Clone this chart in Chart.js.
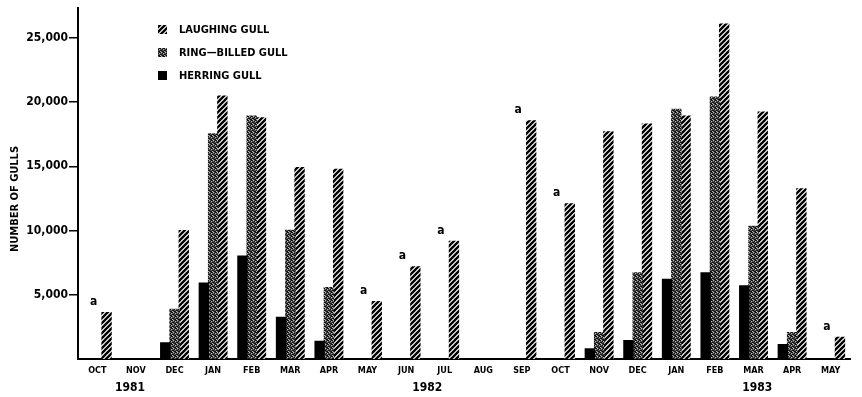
<!DOCTYPE html>
<html>
<head>
<meta charset="utf-8">
<script src="https://cdn.jsdelivr.net/npm/chart.js@4.4.0/dist/chart.umd.min.js"></script>
<style>
  html,body{margin:0;padding:0;background:#fff}
  #wrap{width:862px;height:397px;position:relative}
</style>
</head>
<body>
<div id="wrap"><canvas id="grafico"></canvas></div>
<script>
// ---------- Dados ----------
const months = ['OCT','NOV','DEC','JAN','FEB','MAR','APR','MAY','JUN','JUL','AUG','SEP',
                'OCT','NOV','DEC','JAN','FEB','MAR','APR','MAY'];
const years = ['1981', '1982', '1983'];
const yearCenter = [0.85, 8.55, 17.1]; // month index each year label sits under

const herring  = [null, null, 1300, 5950, 8050, 3280, 1420, null, null, null, null, null,
                  null, 830, 1470, 6250, 6760, 5730, 1160, null];
const ringBill = [null, null, 3920, 17570, 18940, 10060, 5600, null, null, null, null, null,
                  null, 2110, 6760, 19480, 20430, 10370, 2110, null];
const laughing = [3660, null, 10040, 20510, 18810, 14940, 14800, 4510, 7220, 9210, null, 18580,
                  12130, 17720, 18320, 18940, 26100, 19270, 13290, 1730];
// footnote "a" marks over the laughing gull bar
const noteA = [1,0,0,0,0,0,0,1,1,1,0,1,1,0,0,0,0,0,0,1];

const yTicks = [5000, 10000, 15000, 20000, 25000];

const FONT = "'DejaVu Sans Condensed', 'Liberation Sans', Arial, sans-serif";

// ---------- Padrões ----------
function hatchPattern(){
  const c = document.createElement('canvas');
  c.width = 5; c.height = 5;
  const g = c.getContext('2d');
  g.fillStyle = '#fff'; g.fillRect(0,0,5,5);
  g.strokeStyle = '#000'; g.lineWidth = 2.3;
  g.beginPath();
  g.moveTo(-1,6); g.lineTo(6,-1);
  g.moveTo(-1,1); g.lineTo(1,-1);
  g.moveTo(4,6); g.lineTo(6,4);
  g.stroke();
  return g.createPattern(c, 'repeat');
}
function stipplePattern(){
  const c = document.createElement('canvas');
  c.width = 4; c.height = 4;
  const g = c.getContext('2d');
  g.fillStyle = '#555'; g.fillRect(0,0,4,4);
  g.fillStyle = '#111';
  [[0,0],[2,1],[1,2],[3,3],[2,3],[0,2],[3,0]].forEach(([x,y])=>g.fillRect(x,y,1,1));
  g.fillStyle = '#b8b8b8';
  [[1,0],[3,1],[0,3]].forEach(([x,y])=>g.fillRect(x,y,1,1));
  return g.createPattern(c, 'repeat');
}
const HATCH = hatchPattern();
const STIPPLE = stipplePattern();

// ---------- Plugin: legenda, notas, anos, título ----------
const extras = {
  id: 'extras',
  afterDatasetsDraw(chart){
    const {ctx, scales:{x}} = chart;
    ctx.save();
    ctx.fillStyle = '#000';

    // notas "a"
    const meta = chart.getDatasetMeta(2);
    ctx.font = 'bold 12px ' + FONT;
    ctx.textAlign = 'center';
    ctx.textBaseline = 'middle';
    noteA.forEach((f,i)=>{
      if(!f) return;
      const el = meta.data[i];
      ctx.fillText('a', el.x - 13, el.y - 10);
    });

    // anos
    ctx.font = 'bold 12px ' + FONT;
    years.forEach((y,i)=>{
      ctx.fillText(y, x.getPixelForValue(yearCenter[i]), 388);
    });

    // legenda
    const items = [
      {label:'LAUGHING GULL', fill:HATCH},
      {label:'RING\u2014BILLED GULL', fill:STIPPLE},
      {label:'HERRING GULL', fill:'#000'},
    ];
    ctx.font = 'bold 11px ' + FONT;
    ctx.textAlign = 'left';
    items.forEach((it,i)=>{
      const cy = 30 + i*23;
      ctx.fillStyle = it.fill;
      ctx.fillRect(158, cy-5, 9, 9);
      ctx.fillStyle = '#000';
      ctx.fillText(it.label, 179, cy);
    });

    // título do eixo y
    ctx.translate(15, 199);
    ctx.rotate(-Math.PI/2);
    ctx.textAlign = 'center';
    ctx.font = 'bold 11px ' + FONT;
    ctx.fillText('NUMBER OF GULLS', 0, 0);
    ctx.restore();
  }
};

// ---------- Gráfico ----------
const common = { borderWidth: 0, categoryPercentage: 0.72, barPercentage: 1.12 };

new Chart(document.getElementById('grafico'), {
  type: 'bar',
  data: {
    labels: months,
    datasets: [
      { label: 'Herring Gull', data: herring, backgroundColor: '#000', ...common },
      { label: 'Ring-billed Gull', data: ringBill, backgroundColor: STIPPLE, ...common },
      { label: 'Laughing Gull', data: laughing, backgroundColor: HATCH, ...common },
    ]
  },
  options: {
    responsive: true,
    maintainAspectRatio: false,
    animation: false,
    layout: { padding: { top: 6, right: 12, left: 0, bottom: 0 } },
    scales: {
      x: {
        offset: true,
        grid: { display: false, drawTicks: false },
        border: { display: true, color: '#000', width: 2 },
        ticks: { color: '#000', font: { family: FONT, size: 9, weight: 'bold' }, padding: 6,
                 maxRotation: 0, autoSkip: false },
        afterFit: (s) => { s.height = 38; }
      },
      y: {
        min: 0, max: 27300,
        afterBuildTicks: (s) => { s.ticks = yTicks.map(v => ({ value: v })); },
        grid: { drawOnChartArea: false, color: '#000', lineWidth: 1.5, tickLength: 9 },
        border: { display: true, color: '#000', width: 2 },
        ticks: { color: '#000', padding: 1, font: { family: FONT, size: 12, weight: 'bold' },
                 callback: (v) => v.toLocaleString('en-US') },
        afterFit: (s) => { s.width = 78; }
      }
    },
    plugins: { legend: { display: false }, tooltip: { enabled: false } }
  },
  plugins: [extras]
});
</script>
</body>
</html>
